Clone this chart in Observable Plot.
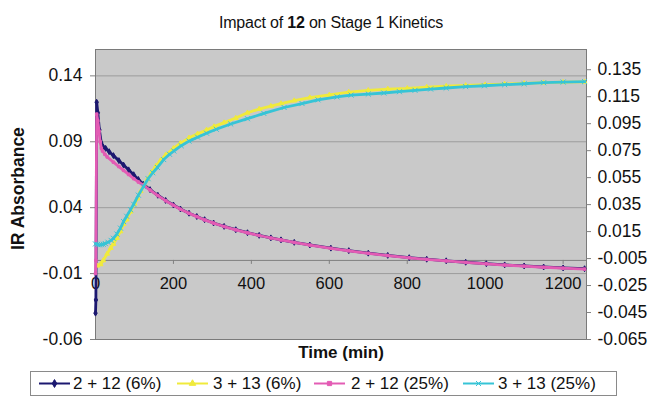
<!DOCTYPE html>
<html>
<head>
<meta charset="utf-8">
<script src="https://cdn.jsdelivr.net/npm/d3@7"></script>
<script src="https://cdn.jsdelivr.net/npm/@observablehq/plot@0.6"></script>
<style>
  body { margin: 0; background: #fff; font-family: "Liberation Sans", Arial, sans-serif; }
  #wrap { position: relative; width: 653px; height: 409px; overflow: hidden; }
  #title { position: absolute; left: 0; top: 0; width: 662px; height: 40px; line-height: 46px; text-align: center; font-size: 16px; color: #111; letter-spacing: -0.2px; }
  #chart { position: absolute; left: 0; top: 40px; }
  #ylabel { position: absolute; left: 8px; top: 126px; width: 21px; height: 124px; transform: rotate(180deg); }
  #ylabel span { display: block; writing-mode: vertical-rl; font-size: 17.5px; font-weight: bold; line-height: 21px; color: #111; white-space: nowrap; }
  #legend { position: absolute; left: 30px; top: 371px; width: 585px; height: 23px; border: 1px solid #8a8a8a; background: #fff; }
  .item { position: absolute; top: 0; height: 23px; line-height: 23px; font-size: 17px; color: #111; white-space: nowrap; }
  .item svg { position: absolute; top: 6px; }
</style>
</head>
<body>
<div id="wrap">
  <div id="title">Impact of <b>12</b> on Stage 1 Kinetics</div>
  <div id="chart"></div>
  <div id="ylabel"><span>IR Absorbance</span></div>
  <div id="legend"></div>
</div>
<script>
// ---- tick labels ----
const xTicks = [0, 200, 400, 600, 800, 1000, 1200];
const leftTicks = [-0.06, -0.01, 0.04, 0.09, 0.14];
const rightTicks = [-0.065, -0.045, -0.025, -0.005, 0.015, 0.035, 0.055, 0.075, 0.095, 0.115, 0.135];

// ---- series names / colours ----
const seriesNames = ["2 + 12 (6%)", "3 + 13 (6%)", "2 + 12 (25%)", "3 + 13 (25%)"];
const seriesColors = ["#1c1870", "#f0ea3c", "#e35cb4", "#36c4d6"];

// ---- series 1: 2 + 12 (6%) ----
const s1T = [0, 1, 3, 6, 10, 15, 20, 26, 35, 46, 60, 72, 85, 98, 110, 123, 140, 160, 180, 200, 218, 240, 260, 280, 303, 330, 360, 390, 420, 450, 476, 510, 550, 604, 650, 700, 750, 805, 850, 900, 950, 1003, 1050, 1100, 1150, 1200, 1255];
const s1V = [-0.040, -0.030, 0.120, 0.112, 0.099, 0.089, 0.086, 0.085, 0.0825, 0.0795, 0.0757, 0.0723, 0.0687, 0.0650, 0.0614, 0.0577, 0.0537, 0.0494, 0.0455, 0.0420, 0.0390, 0.0358, 0.0333, 0.0309, 0.0284, 0.0258, 0.0233, 0.0210, 0.0190, 0.0171, 0.0156, 0.0137, 0.0117, 0.0093, 0.0074, 0.0055, 0.0038, 0.0021, 0.0009, -0.0003, -0.0014, -0.0025, -0.0034, -0.0042, -0.0050, -0.0057, -0.0063];

// ---- series 2: 3 + 13 (6%) ----
const s2T = [5, 13, 20, 30, 39, 46, 55, 64, 72, 80, 90, 100, 108, 116, 125, 133, 145, 155, 167, 180, 200, 218, 240, 262, 285, 304, 330, 360, 390, 420, 450, 476, 510, 550, 600, 650, 700, 750, 800, 850, 900, 950, 1000, 1050, 1100, 1150, 1200, 1255];
const s2V = [-0.004, -0.003, 0.000, 0.005, 0.0094, 0.0125, 0.017, 0.022, 0.0275, 0.031, 0.037, 0.043, 0.047, 0.0525, 0.057, 0.0615, 0.067, 0.0715, 0.076, 0.080, 0.085, 0.089, 0.093, 0.096, 0.099, 0.1015, 0.1045, 0.108, 0.112, 0.1148, 0.117, 0.119, 0.1212, 0.1235, 0.1255, 0.1277, 0.129, 0.130, 0.1305, 0.1315, 0.1322, 0.1328, 0.1333, 0.1338, 0.1343, 0.1348, 0.1352, 0.1355];

// ---- series 3: 2 + 12 (25%) ----
const s3T = [0, 1, 3, 6, 9, 12, 15, 18, 24, 30, 46, 60, 72, 85, 98, 110, 123, 140, 160, 180, 200, 218, 240, 260, 280, 303, 330, 360, 390, 420, 450, 476, 510, 550, 604, 650, 700, 750, 805, 850, 900, 950, 1003, 1050, 1100, 1150, 1200, 1255];
const s3V = [-0.010, 0.000, 0.111, 0.106, 0.098, 0.090, 0.085, 0.083, 0.0805, 0.0785, 0.0745, 0.0712, 0.0683, 0.0652, 0.0620, 0.0595, 0.0570, 0.0534, 0.0492, 0.0453, 0.0418, 0.0388, 0.0357, 0.0332, 0.0307, 0.0283, 0.0257, 0.0232, 0.0209, 0.0189, 0.0170, 0.0155, 0.0136, 0.0116, 0.0092, 0.0073, 0.0054, 0.0037, 0.0020, 0.0008, -0.0004, -0.0015, -0.0026, -0.0035, -0.0044, -0.0052, -0.0059, -0.0066];

// ---- series 4: 3 + 13 (25%) ----
const s4T = [0, 5, 10, 15, 20, 25, 32, 40, 46, 55, 64, 72, 80, 90, 98, 110, 123, 135, 147, 159, 175, 190, 201, 220, 240, 262, 285, 310, 347, 390, 432, 484, 530, 571, 620, 656, 700, 740, 780, 820, 860, 900, 950, 998, 1050, 1100, 1150, 1200, 1255];
const s4V = [0.0125, 0.0120, 0.0118, 0.0120, 0.0123, 0.0128, 0.0138, 0.0152, 0.0168, 0.0200, 0.0245, 0.0295, 0.0335, 0.0385, 0.0426, 0.0495, 0.0560, 0.0620, 0.0665, 0.0705, 0.0765, 0.0805, 0.0830, 0.0870, 0.0905, 0.0935, 0.0965, 0.0995, 0.1035, 0.1075, 0.1115, 0.1160, 0.1190, 0.1218, 0.1240, 0.1254, 0.1262, 0.1270, 0.1280, 0.1290, 0.1300, 0.1308, 0.1318, 0.1325, 0.1333, 0.1340, 0.1348, 0.1353, 0.1356];

// ---- axis domains ----
const xDomain = [0, 1260];
const leftDomain = [-0.06, 0.16];
const rightDomain = [-0.065, 0.15];

// map a right-axis value onto the left (plotted) scale
const toLeft = r => leftDomain[0] + (r - rightDomain[0]) * (leftDomain[1] - leftDomain[0]) / (rightDomain[1] - rightDomain[0]);

const build = (T, V) => T.map((t, i) => ({t, v: V[i]}));
const series = [build(s1T, s1V), build(s2T, s2V), build(s3T, s3V), build(s4T, s4V)];
const symbols = ["diamond", "triangle", "square", "times"];
const radii = [1.8, 1.8, 1.4, 2.4];

const marks = [
  Plot.frame({fill: "#c9c9c9", stroke: null}),
  Plot.gridY(leftTicks, {stroke: "#9c9c9c", strokeOpacity: 1}),
  Plot.ruleY([0], {stroke: "#808080"}),
  Plot.ruleX(xTicks, {x: d => d, y1: 0, y2: 0, insetBottom: -4, stroke: "#808080"}),
  Plot.text(xTicks, {x: d => d, y: 0, dy: 23, text: d => String(d), fontSize: 16.5, fill: "#111"}),
  Plot.frame({stroke: "#7a7a7a"}),
  Plot.axisY(leftTicks, {anchor: "left", label: null, tickSize: 5, tickPadding: 8, tickFormat: d => d.toFixed(2), fontSize: 17.5, color: "#111", stroke: "#808080"}),
  Plot.ruleY(rightTicks, {y: toLeft, x1: xDomain[1], x2: xDomain[1], insetRight: -5, stroke: "#808080"}),
  Plot.text(rightTicks, {y: toLeft, frameAnchor: "right", dx: 11, textAnchor: "start", text: d => d.toFixed(3), fontSize: 17.5, fill: "#111"}),
  Plot.text(["Time (min)"], {frameAnchor: "bottom", dy: 18, fontWeight: "bold", fontSize: 17, fill: "#111"})
];
series.forEach((s, k) => {
  marks.push(Plot.line(s, {x: "t", y: "v", stroke: seriesColors[k], strokeWidth: 2.8}));
  marks.push(Plot.dot(s, {x: "t", y: "v", symbol: symbols[k], r: radii[k], fill: seriesColors[k], stroke: seriesColors[k], strokeWidth: 1}));
});

const chart = Plot.plot({
  width: 653,
  height: 330,
  marginTop: 9,
  marginBottom: 31,
  marginLeft: 95,
  marginRight: 67,
  style: {fontFamily: "'Liberation Sans', Arial, sans-serif", overflow: "visible", background: "transparent"},
  x: {domain: xDomain, axis: null},
  y: {domain: leftDomain, axis: null},
  marks
});
document.getElementById("chart").appendChild(chart);

// ---- legend ----
const legend = document.getElementById("legend");
const swatchX = [8, 146, 283, 432];
const textX = [42, 182, 320, 467];
seriesNames.forEach((name, k) => {
  const item = document.createElement("div");
  item.className = "item";
  item.style.left = swatchX[k] + "px";
  const sym = d3.symbol(k === 0 ? d3.symbolDiamond : k === 1 ? d3.symbolTriangle : k === 2 ? d3.symbolSquare : d3.symbolTimes, 18)();
  item.innerHTML = `<svg width="32" height="11"><line x1="0" x2="31" y1="5.5" y2="5.5" stroke="${seriesColors[k]}" stroke-width="2"/><path d="${sym}" transform="translate(15.5,5.5)" fill="${seriesColors[k]}" stroke="${seriesColors[k]}"/></svg><span style="position:absolute;left:${textX[k] - swatchX[k]}px">${name}</span>`;
  legend.appendChild(item);
});
</script>
</body>
</html>
